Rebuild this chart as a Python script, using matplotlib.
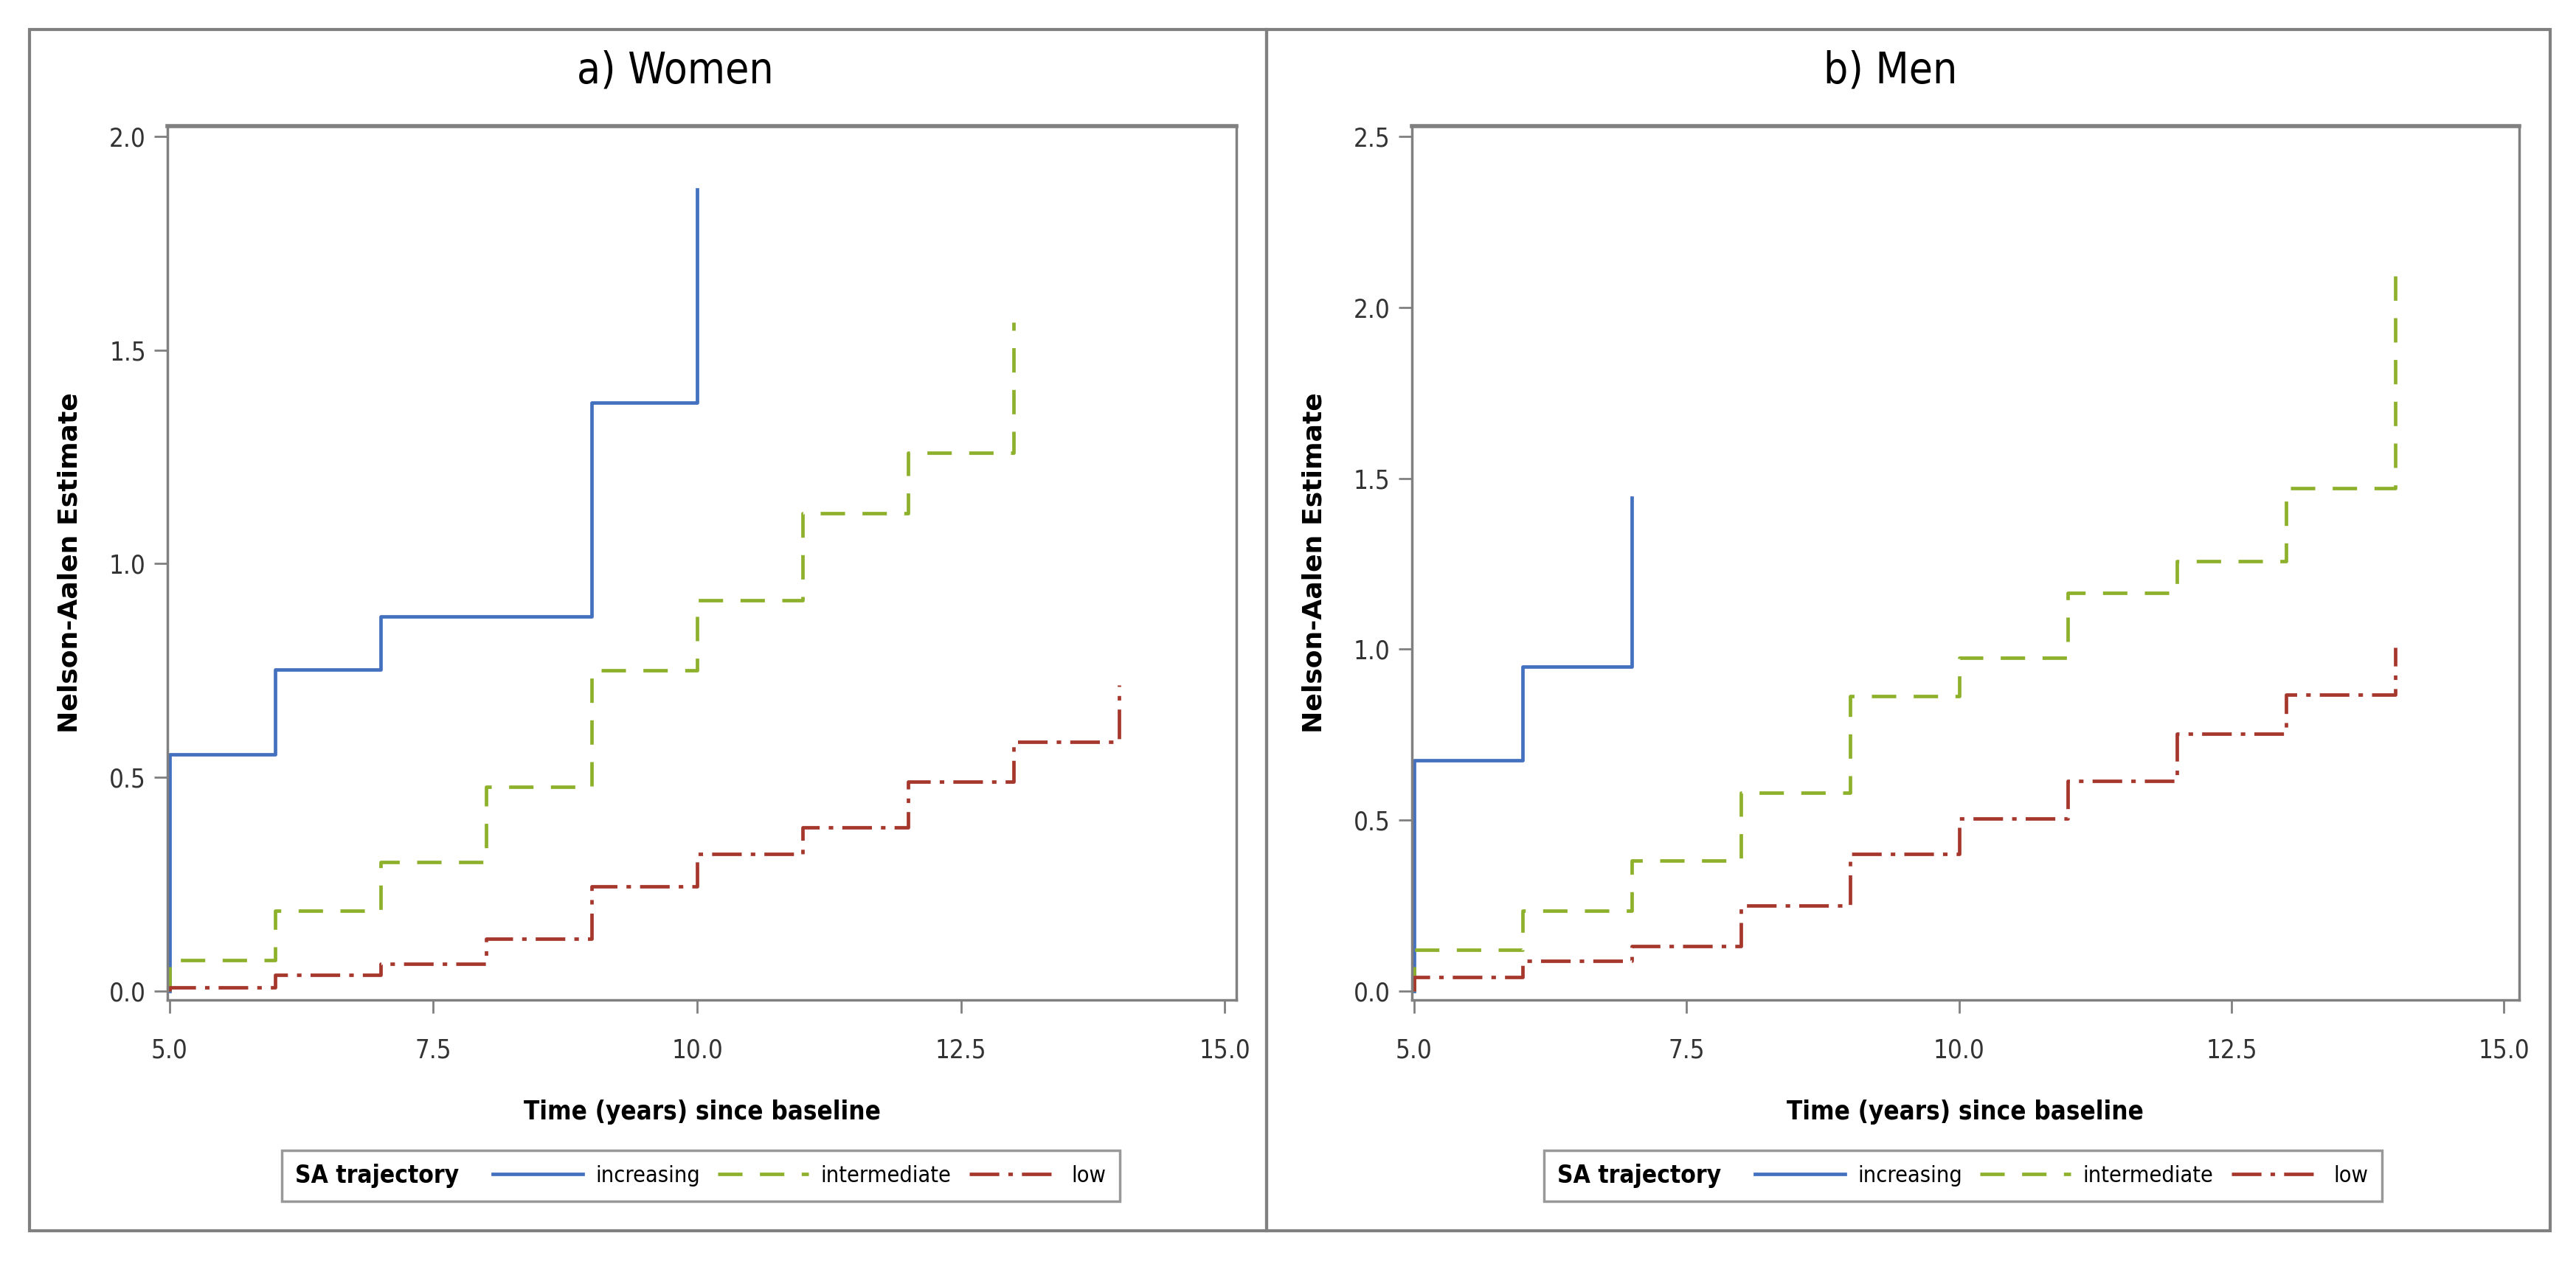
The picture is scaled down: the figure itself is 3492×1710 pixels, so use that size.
import matplotlib.pyplot as plt
from matplotlib import font_manager
from matplotlib.lines import Line2D
from matplotlib.patches import Rectangle
from matplotlib.offsetbox import HPacker

# the SAS figure uses a narrow sans; take whatever condensed face is installed
narrow = 'DejaVu Sans'
for f in font_manager.fontManager.ttflist:
    if 'Narrow' in f.name or 'Condensed' in f.name or f.stretch in ('condensed', 'semi-condensed'):
        narrow = f.name
        break
plt.rcParams['font.family'] = [narrow, 'DejaVu Sans']
plt.rcParams['font.stretch'] = 'condensed'

# Nelson-Aalen cumulative hazard, women
w_years_inc = [5, 5, 6, 7, 9, 10]
w_inc = [0, 0.553, 0.752, 0.877, 1.377, 1.875]
w_years_int = [5, 5, 6, 7, 8, 9, 10, 11, 12, 13]
w_int = [0, 0.072, 0.188, 0.301, 0.477, 0.750, 0.915, 1.118, 1.259, 1.565]
w_years_low = [5, 5, 6, 7, 8, 9, 10, 11, 12, 13, 14]
w_low = [0, 0.008, 0.037, 0.063, 0.123, 0.244, 0.320, 0.383, 0.490, 0.583, 0.716]

# men
m_years_inc = [5, 5, 6, 7]
m_inc = [0, 0.675, 0.948, 1.443]
m_years_int = [5, 5, 6, 7, 8, 9, 10, 11, 12, 13, 14]
m_int = [0, 0.12, 0.236, 0.382, 0.580, 0.862, 0.975, 1.164, 1.258, 1.470, 2.135]
m_years_low = [5, 5, 6, 7, 8, 9, 10, 11, 12, 13, 14]
m_low = [0, 0.042, 0.088, 0.132, 0.251, 0.402, 0.504, 0.615, 0.753, 0.868, 1.005]

groups = ['increasing', 'intermediate', 'low']
colors = ['#4470C0', '#8DB12B', '#A6372D']
styles = ['-', (0, (7, 5)), (0, (8.5, 2.6, 1.3, 2.6))]
xticks = [5.0, 7.5, 10.0, 12.5, 15.0]
LW = 3.4

gray = '#808080'
fig = plt.figure(figsize=(34.92, 17.10), dpi=100)

panels = [
    ('a) Women', [0.065, 0.207, 0.415, 0.693], 0.262, (4.98, 15.11), (-0.021, 2.024),
     [0, 0.5, 1.0, 1.5, 2.0],
     [(w_years_inc, w_inc), (w_years_int, w_int), (w_years_low, w_low)]),
    ('b) Men', [0.548, 0.207, 0.430, 0.693], 0.734, (4.98, 15.14), (-0.026, 2.53),
     [0, 0.5, 1.0, 1.5, 2.0, 2.5],
     [(m_years_inc, m_inc), (m_years_int, m_int), (m_years_low, m_low)]),
]

# panel frames
fig.add_artist(Rectangle((0.0115, 0.0242), 0.4802, 0.9522, transform=fig.transFigure,
                         fill=False, ec=gray, lw=3))
fig.add_artist(Rectangle((0.4917, 0.0242), 0.4983, 0.9522, transform=fig.transFigure,
                         fill=False, ec=gray, lw=3))

legend_x = [0.272, 0.762]
for k, (title, pos, tx, xlim, ylim, yticks, series) in enumerate(panels):
    ax = fig.add_axes(pos)
    for (x, y), c, ls in zip(series, colors, styles):
        ax.step(x, y, where='post', color=c, linestyle=ls, lw=LW)
    ax.set_xlim(*xlim)
    ax.set_ylim(*ylim)
    ax.set_xticks(xticks)
    ax.set_xticklabels(['%.1f' % t for t in xticks])
    ax.set_yticks(yticks)
    ax.set_yticklabels(['%.1f' % t for t in yticks])
    for s in ax.spines.values():
        s.set_color(gray)
        s.set_linewidth(2.5)
    ax.spines['top'].set_linewidth(4)
    ax.tick_params(axis='both', direction='out', length=13, width=2, color=gray,
                   labelsize=25, labelcolor='#333333')
    ax.tick_params(axis='x', pad=24)
    ax.tick_params(axis='y', pad=8)
    ax.set_xlabel('Time (years) since baseline', fontsize=25, fontweight='bold', labelpad=36)
    ax.set_ylabel('Nelson-Aalen Estimate', fontsize=26, fontweight='bold', labelpad=26,
                  family='DejaVu Sans', fontstretch='normal')
    fig.text(tx, 0.944, title, ha='center', va='center', fontsize=42)

    handles = [Line2D([], [], color=c, linestyle=ls, lw=LW) for c, ls in zip(colors, styles)]
    leg = fig.legend(handles, groups, loc='center', bbox_to_anchor=(legend_x[k], 0.0675),
                     ncol=3, fontsize=22, title='SA trajectory',
                     title_fontproperties={'weight': 'bold', 'size': 24},
                     frameon=True, fancybox=False, edgecolor=gray, handlelength=4.0,
                     handletextpad=0.55, columnspacing=0.8, borderpad=0.6)
    leg.get_frame().set_linewidth(2.5)
    # put the legend title on the same row as the entries
    fs = leg._fontsize
    row = HPacker(pad=leg.borderpad * fs, sep=1.5 * fs, align='center',
                  children=[leg._legend_title_box, leg._legend_handle_box])
    row.set_figure(fig)
    row.set_offset(leg._findoffset)
    leg._legend_box = row

fig.savefig('out.png', dpi=100)
